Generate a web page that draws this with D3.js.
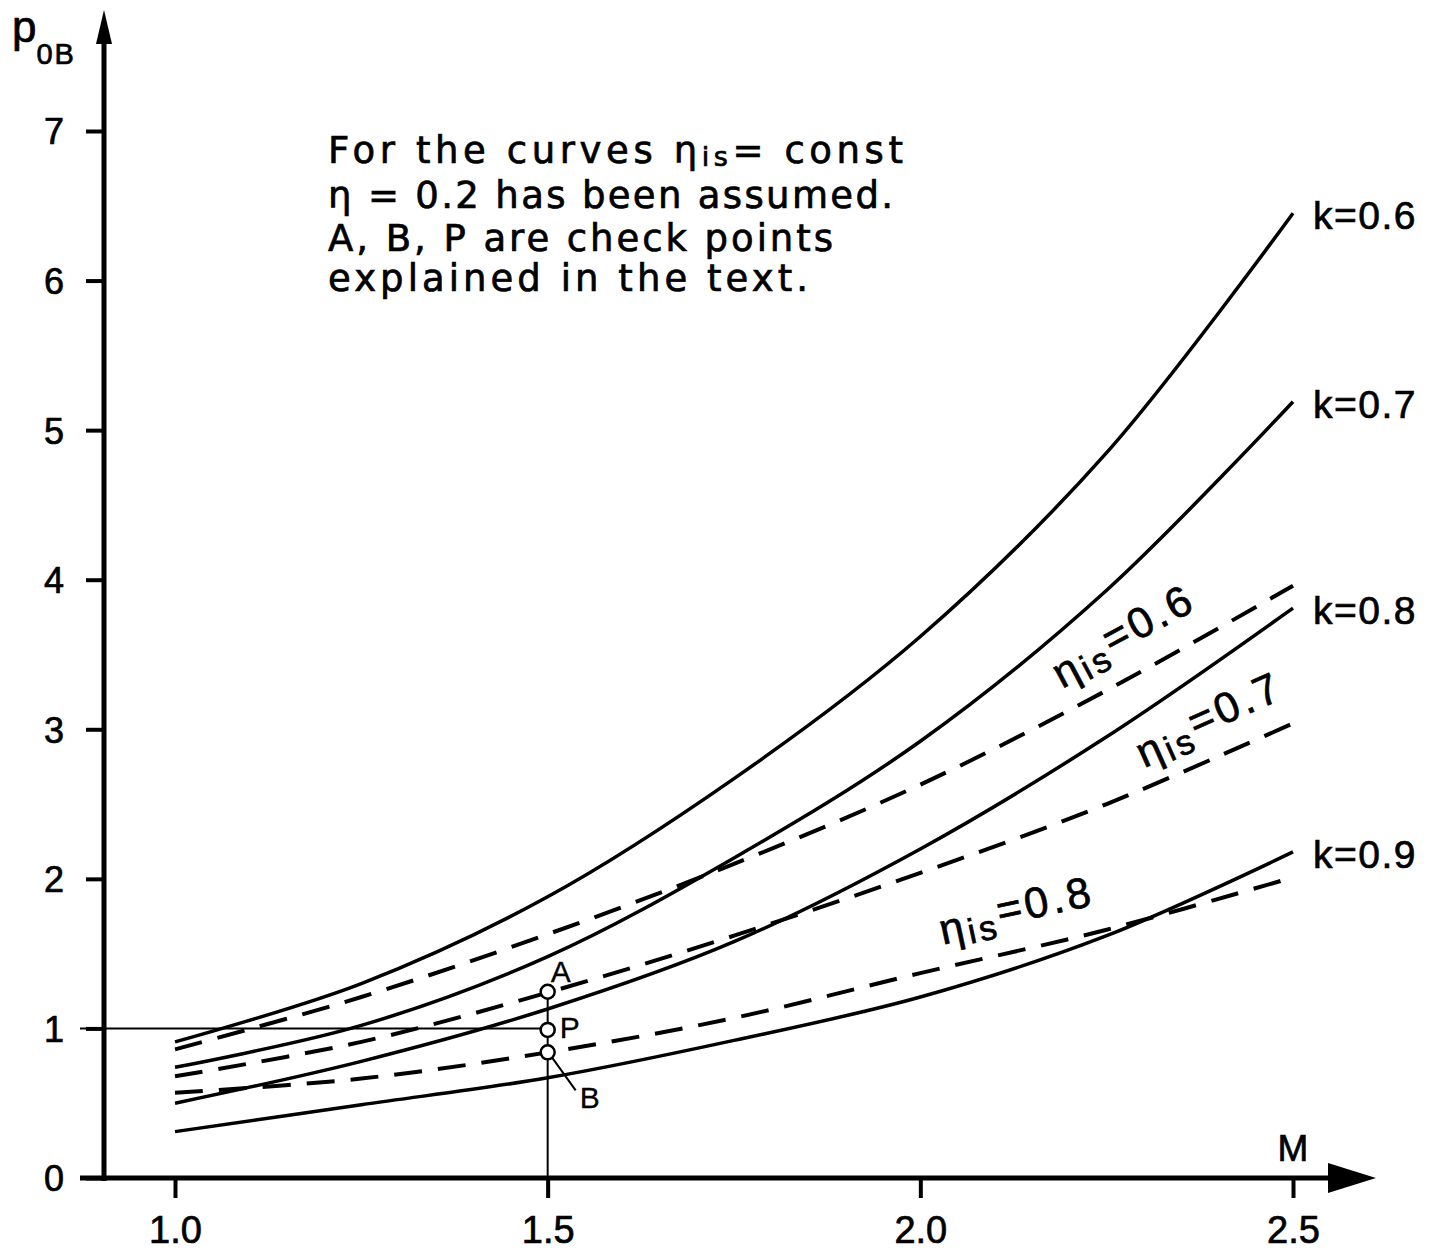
<!DOCTYPE html>
<html>
<head>
<meta charset="utf-8">
<script src="https://cdn.jsdelivr.net/npm/d3@7"></script>
<style>
  body { margin: 0; background: #fff; }
  text { fill: #000; stroke: #000; stroke-width: 0.7px; }
</style>
</head>
<body>
<div id="chart"></div>
<script>
// Mach numbers at which the curves are read
var machValues = [1.0, 1.25, 1.5, 1.75, 2.0, 2.25, 2.5];

// solid curves, k = const
var k06 = [0.91, 1.30, 1.88, 2.67, 3.62, 4.85, 6.45];
var k07 = [0.74, 1.02, 1.48, 2.14, 2.92, 3.93, 5.19];
var k08 = [0.50, 0.78, 1.13, 1.58, 2.20, 2.95, 3.81];
var k09 = [0.31, 0.49, 0.67, 0.92, 1.21, 1.62, 2.18];
var kNames = ["k=0.6", "k=0.7", "k=0.8", "k=0.9"];

// dashed curves, eta_is = const
var eta06 = [0.86, 1.21, 1.63, 2.10, 2.63, 3.26, 3.96];
var eta07 = [0.68, 0.91, 1.24, 1.62, 2.04, 2.50, 3.04];
var eta08 = [0.57, 0.665, 0.84, 1.07, 1.37, 1.66, 2.01];
var etaNames = ["0.6", "0.7", "0.8"];
// where the eta labels sit (M, p) and their tilt
var etaLabelPos = [[2.19, 3.27], [2.30, 2.74], [2.03, 1.56]];
var etaLabelAngle = [-28, -24, -12];

// check points on M = 1.5
var checkM = 1.5;
var checkNames = ["A", "P", "B"];
var checkValues = [1.245, 0.99, 0.84];

var xTicks = [1.0, 1.5, 2.0, 2.5];
var yTicks = [0, 1, 2, 3, 4, 5, 6, 7];

var noteLines = ["For the curves ", "\u03B7 = 0.2 has been assumed.", "A, B, P are check points", "explained in the text."];
var noteWidths = [575, 565, 505, 480];

var W = 1444, H = 1256;
var font = "'Liberation Sans', Arial, sans-serif";
var svg = d3.select("#chart").append("svg")
    .attr("width", W)
    .attr("height", H);
svg.append("rect").attr("width", W).attr("height", H).attr("fill", "white");

var x = d3.scaleLinear().domain([1.0, 2.5]).range([175, 1293]);
var y = d3.scaleLinear().domain([0, 7]).range([1178, 131]);
var axisX = 104;   // pixel column of the p axis

//y axis with ticks
var gy = svg.append("g")
    .attr("transform", "translate(" + axisX + ",0)")
    .call(d3.axisLeft(y).tickValues(yTicks).tickSize(18).tickFormat(d3.format("d")));
gy.select(".domain").remove();
gy.attr("font-size", 36).attr("font-family", font);
gy.selectAll(".tick line").attr("stroke", "#000").attr("stroke-width", 4);
gy.selectAll(".tick text").attr("x", -50).attr("text-anchor", "middle").attr("dy", "0.36em");

//x axis with ticks
var gx = svg.append("g")
    .attr("transform", "translate(0," + y(0) + ")")
    .call(d3.axisBottom(x).tickValues(xTicks).tickSize(20).tickPadding(18).tickFormat(d3.format(".1f")));
gx.select(".domain").remove();
gx.attr("font-size", 38).attr("font-family", font);
gx.selectAll(".tick line").attr("stroke", "#000").attr("stroke-width", 4);

// axis lines and arrow heads
svg.append("line")
    .attr("x1", axisX).attr("y1", y(0) + 3).attr("x2", axisX).attr("y2", 40)
    .attr("stroke", "#000").attr("stroke-width", 5);
svg.append("path")
    .attr("d", "M" + (axisX - 8) + ",44 L" + axisX + ",10 L" + (axisX + 8) + ",44 Z")
    .attr("fill", "#000");
svg.append("line")
    .attr("x1", 80).attr("y1", y(0)).attr("x2", 1335).attr("y2", y(0))
    .attr("stroke", "#000").attr("stroke-width", 5);
svg.append("path")
    .attr("d", "M1328," + (y(0) - 15) + " L1376," + y(0) + " L1328," + (y(0) + 15) + " Z")
    .attr("fill", "#000");

// axis titles
var pt = svg.append("text").attr("x", 12).attr("y", 42)
    .style("font-family", font).style("font-size", "44px");
pt.append("tspan").text("p");
pt.append("tspan").attr("dy", 22).style("font-size", "29px").style("letter-spacing", "2px").text("0B");

svg.append("text").attr("x", x(2.5)).attr("y", 1161)
    .attr("text-anchor", "middle")
    .style("font-family", font).style("font-size", "37px")
    .text("M");

// guide lines to the check points
svg.append("line")
    .attr("x1", x(checkM)).attr("y1", y(0) + 20)
    .attr("x2", x(checkM)).attr("y2", y(checkValues[0]))
    .attr("stroke", "#000").attr("stroke-width", 2);
svg.append("line")
    .attr("x1", 80).attr("y1", y(1))
    .attr("x2", x(checkM)).attr("y2", y(1))
    .attr("stroke", "#000").attr("stroke-width", 2);

var d3line = d3.line()
    .x(function (d) { return x(d[0]); })
    .y(function (d) { return y(d[1]); })
    .curve(d3.curveCatmullRom.alpha(0.5));

var solidSeries = [k06, k07, k08, k09];
var dashedSeries = [eta06, eta07, eta08];

// solid k curves
solidSeries.forEach(function (vals, i) {
    var pts = machValues.map(function (m, j) { return [m, vals[j]]; });
    svg.append("path").attr("d", d3line(pts))
        .style("fill", "none")
        .style("stroke", "#000")
        .style("stroke-width", 3.5);
    svg.append("text")
        .attr("x", x(2.5) + 20)
        .attr("y", y(vals[vals.length - 1]) + 16)
        .style("font-family", font).style("font-size", "39px")
        .style("letter-spacing", "1.5px")
        .text(kNames[i]);
});

// dashed eta curves
dashedSeries.forEach(function (vals, i) {
    var pts = machValues.map(function (m, j) { return [m, vals[j]]; });
    svg.append("path").attr("d", d3line(pts))
        .style("fill", "none")
        .style("stroke", "#000")
        .style("stroke-width", 4)
        .style("stroke-dasharray", "28,16");
    var lx = x(etaLabelPos[i][0]), ly = y(etaLabelPos[i][1]);
    var t = svg.append("text")
        .attr("transform", "translate(" + lx + "," + ly + ") rotate(" + etaLabelAngle[i] + ")")
        .style("font-family", font).style("font-size", "43px")
        .style("letter-spacing", "3.5px");
    t.append("tspan").text("\u03B7");
    t.append("tspan").attr("dy", 5).style("font-size", "35px").text("is");
    t.append("tspan").attr("dy", -12).text("=" + etaNames[i]);
});

// check points
svg.append("line")
    .attr("x1", x(checkM) + 5).attr("y1", y(checkValues[2]) + 6)
    .attr("x2", x(checkM) + 28).attr("y2", y(checkValues[2]) + 38)
    .attr("stroke", "#000").attr("stroke-width", 2);
svg.selectAll(".check")
    .data(checkValues)
    .enter().append("circle")
    .attr("cx", x(checkM))
    .attr("cy", function (d) { return y(d); })
    .attr("r", 7)
    .attr("fill", "white")
    .attr("stroke", "#000")
    .attr("stroke-width", 2.5);
var checkDx = [3, 12, 32], checkDy = [-10, 8, 56];
checkNames.forEach(function (n, i) {
    svg.append("text")
        .attr("x", x(checkM) + checkDx[i])
        .attr("y", y(checkValues[i]) + checkDy[i])
        .style("font-family", font).style("font-size", "30px")
        .style("stroke-width", "0.3px")
        .text(n);
});

// note in the upper left
var noteY = [163, 208, 251, 291];
noteLines.forEach(function (s, i) {
    var t = svg.append("text")
        .attr("x", 328).attr("y", noteY[i])
        .attr("textLength", noteWidths[i])
        .attr("lengthAdjust", "spacing")
        .style("font-family", "'DejaVu Sans', sans-serif").style("font-size", "37px");
    t.append("tspan").text(s);
    if (i === 0) {
        t.append("tspan").text("\u03B7");
        t.append("tspan").attr("dy", 3).style("font-size", "27px").text("is");
        t.append("tspan").attr("dy", -3).text("= const");
    }
});
</script>
</body>
</html>
